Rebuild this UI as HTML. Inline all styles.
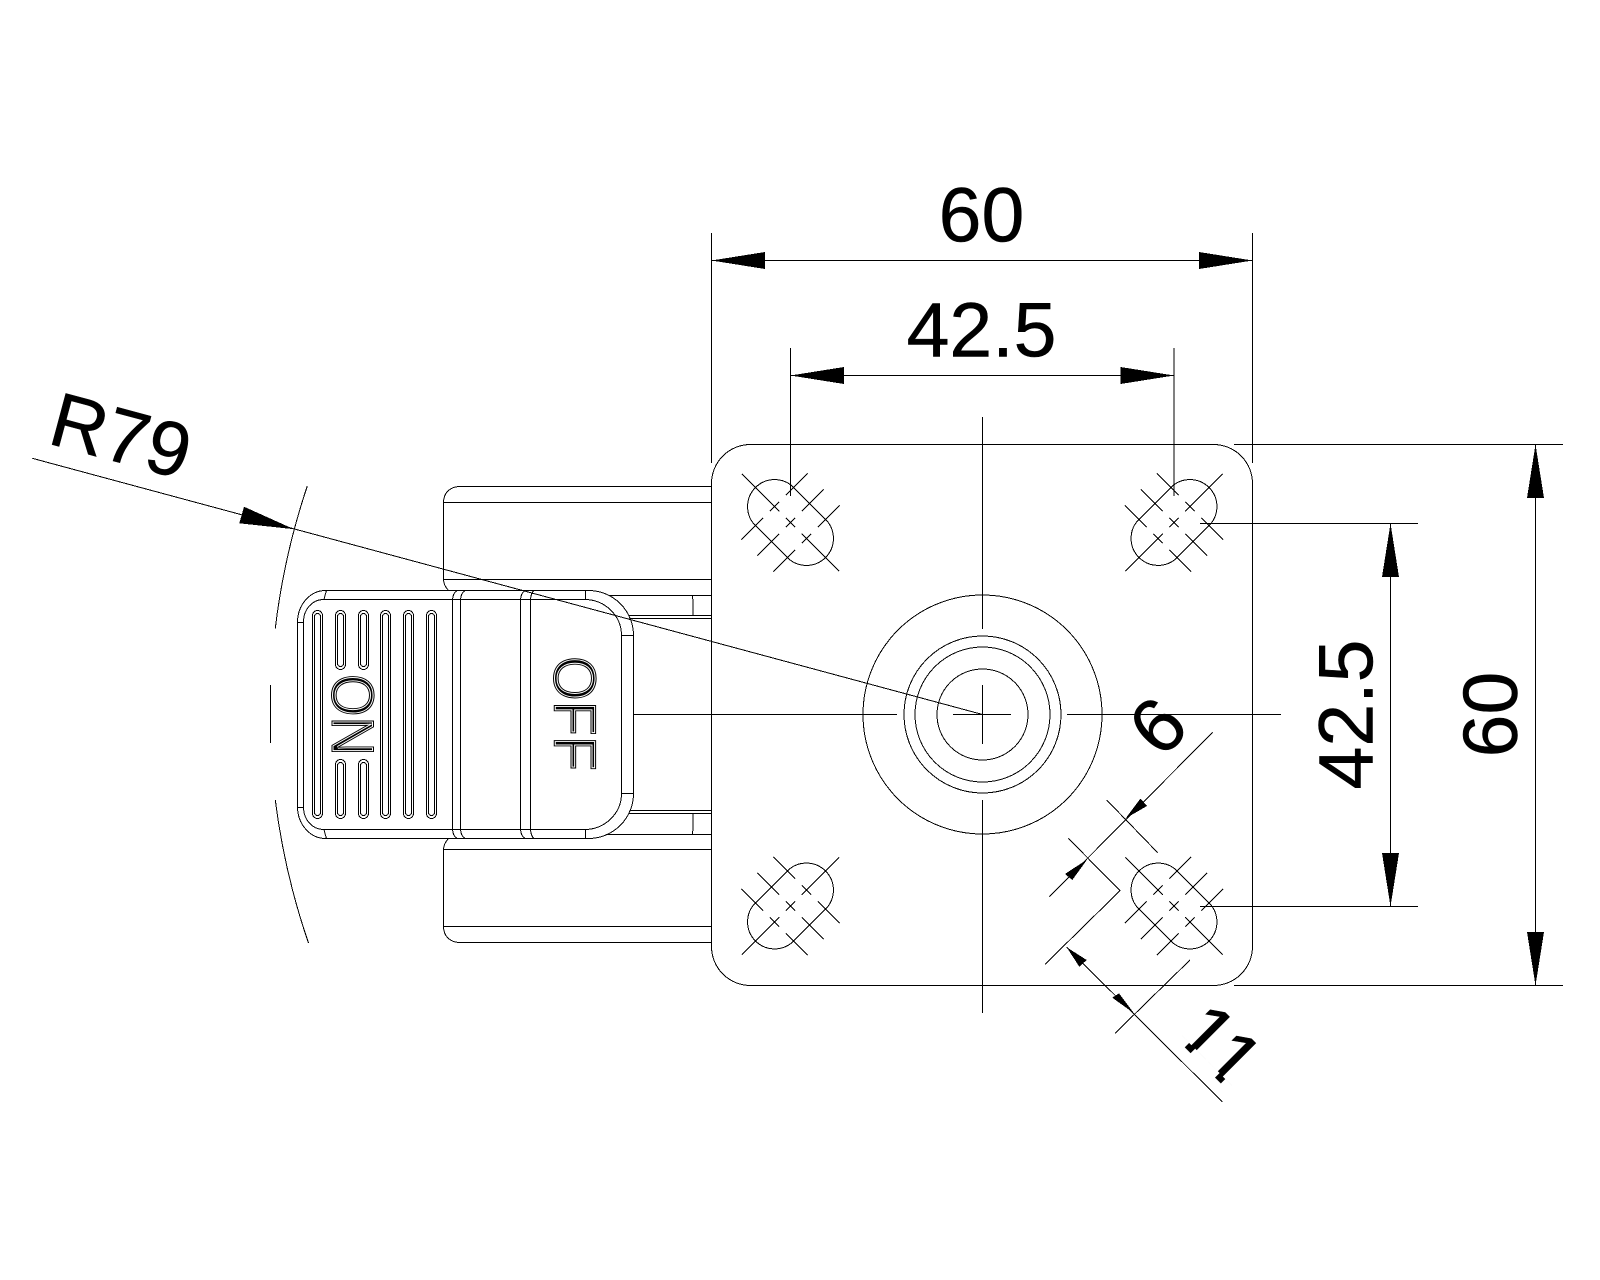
<!DOCTYPE html>
<html>
<head>
<meta charset="utf-8">
<title>Valve dimension drawing</title>
<style>
html,body{margin:0;padding:0;background:#fff;width:1600px;height:1280px;overflow:hidden}
svg{display:block}
.l{fill:none;stroke:#000;stroke-width:1;shape-rendering:crispEdges}
.t{font-family:"Liberation Sans",sans-serif;font-size:77px;fill:#000;stroke:#000;stroke-width:.5}
.a{fill:#000;stroke:none;shape-rendering:crispEdges}
.c{font-family:"Liberation Sans",sans-serif;font-size:60px;fill:#000;stroke:#fff;stroke-width:3}
.o{font-family:"Liberation Sans",sans-serif;font-size:60px;fill:none;stroke:#000;stroke-width:1}
</style>
</head>
<body>
<svg width="1600" height="1280" viewBox="0 0 1600 1280" xmlns="http://www.w3.org/2000/svg">
<defs>
<g id="hole" class="l">
<path d="M-22.5 -27H22.5A27 27 0 0 1 22.5 27H-22.5A27 27 0 0 1 -22.5 -27Z"/>
<path d="M-68.6 0H-15.6M-6.6 0H6.6M15.6 0H68.6"/>
<path d="M0 -46.7V-16M0 -6.6V6.6M0 16V46.7"/>
<path d="M-22.5 -46.7V-16M-22.5 -6.6V6.6M-22.5 16V46.7"/>
<path d="M22.5 -46.7V-16M22.5 -6.6V6.6M22.5 16V46.7"/>
</g>
<clipPath id="nofoot">
<rect x="-60" y="-40" width="120" height="60.8"/>
<rect x="-24" y="20" width="8.3" height="10"/>
<rect x="18.8" y="20" width="8.3" height="10"/>
</clipPath>
</defs>

<!-- side blocks -->
<g class="l">
<path d="M711.5 486.5H460C450 486.5 443.5 493 443.5 502.5V579.5C443.5 584 446 588 449 591"/>
<path d="M443.5 502.5H711.5M443.5 579.5H711.5"/>
<path d="M711.5 942.5H460C450 942.5 443.5 936 443.5 926.5V849.5C443.5 845 446 841 449 838"/>
<path d="M443.5 926.5H711.5M443.5 849.5H711.5"/>
<path d="M600 595.5H711.5M620 615.5H711.5M620 618.5H711.5M692.5 595.5Q693.5 605 693 615.5"/>
<path d="M600 834.5H711.5M620 813.5H711.5M620 810.5H711.5M692.5 834.5Q693.5 824 693 813.5"/>
<path d="M620 714.5H711.5"/>
</g>

<!-- handle -->
<g class="l">
<path style="fill:#fff" d="M325.5 590.5H588.5A45 45 0 0 1 633.5 635.5V793.5A45 45 0 0 1 588.5 838.5H325.5A28 32 0 0 1 297.5 806.5V622.5A28 32 0 0 1 325.5 590.5Z"/>
<path d="M323.5 599.5H584.5A37 36 0 0 1 621.5 635.5V793.5A37 36 0 0 1 584.5 829.5H323.5A20 22 0 0 1 303.5 807.5V621.5A20 22 0 0 1 323.5 599.5Z"/>
<path d="M297.5 622.5H303.5M297.5 807.5H303.5M621.5 635.5H633.5M621.5 793.5H633.5"/>
<path d="M326.5 590.5Q325 595 324 599.5M326.5 838.5Q325 834 324 829.5M585.5 590.5V599.5M585.5 838.5V829.5"/>
<path d="M452.5 599.5Q453 593 457 590.5M452.5 829.5Q453 836 457 838.5M452.5 599.5V829.5"/>
<path d="M460.5 599.5Q461 593 465 590.5M460.5 829.5Q461 836 465 838.5M460.5 599.5V829.5"/>
<path d="M520.5 599.5Q521 593 525 590.5M520.5 829.5Q521 836 525 838.5M520.5 599.5V829.5"/>
<path d="M530.5 599.5Q531 593 534 590.5M530.5 829.5Q531 836 534 838.5M530.5 599.5V829.5"/>
<!-- ribs outer -->
<rect x="312.5" y="610.5" width="10" height="208" rx="5"/>
<rect x="426.5" y="610.5" width="10" height="208" rx="5"/>
<rect x="380.5" y="610.5" width="10" height="208" rx="5"/>
<rect x="403.5" y="610.5" width="10" height="208" rx="5"/>
<rect x="335.5" y="610.5" width="10" height="59" rx="5"/>
<rect x="358.5" y="610.5" width="10" height="59" rx="5"/>
<rect x="335.5" y="759.5" width="10" height="59" rx="5"/>
<rect x="358.5" y="759.5" width="10" height="59" rx="5"/>
<!-- ribs inner -->
<rect x="314.5" y="613.5" width="6" height="202" rx="3"/>
<rect x="428.5" y="613.5" width="6" height="202" rx="3"/>
<rect x="382.5" y="613.5" width="6" height="202" rx="3"/>
<rect x="405.5" y="613.5" width="6" height="202" rx="3"/>
<rect x="337.5" y="613.5" width="6" height="53" rx="3"/>
<rect x="360.5" y="613.5" width="6" height="53" rx="3"/>
<rect x="337.5" y="762.5" width="6" height="53" rx="3"/>
<rect x="360.5" y="762.5" width="6" height="53" rx="3"/>
</g>

<!-- handle lettering -->
<g transform="translate(332 674) rotate(90)">
<text class="c" x="0" y="0" textLength="82" lengthAdjust="spacingAndGlyphs">ON</text>
<text class="o" x="0" y="0" textLength="82" lengthAdjust="spacingAndGlyphs">ON</text>
</g>
<g transform="translate(554 656) rotate(90)">
<text class="c" x="0" y="0" textLength="115" lengthAdjust="spacingAndGlyphs">OFF</text>
<text class="o" x="0" y="0" textLength="115" lengthAdjust="spacingAndGlyphs">OFF</text>
</g>

<!-- plate -->
<g class="l">
<rect x="711.5" y="444.5" width="541" height="541" rx="39" ry="39"/>
<circle cx="982.5" cy="714.5" r="119.5"/>
<circle cx="982.5" cy="714.5" r="78.5"/>
<circle cx="982.5" cy="714.5" r="67.5"/>
<circle cx="982.5" cy="714.5" r="45.5"/>
<path d="M982.5 417V629M982.5 685V744M982.5 800V1013"/>
<path d="M633 714.5H897M953 714.5H1011M1067 714.5H1281"/>
</g>

<use href="#hole" transform="translate(790.5 522.5) rotate(45)"/>
<use href="#hole" transform="translate(1174 906) rotate(45)"/>
<use href="#hole" transform="translate(1174 522.5) rotate(-45)"/>
<use href="#hole" transform="translate(790.5 906) rotate(-45)"/>

<!-- dimensions -->
<g class="l">
<path d="M711.5 233V463M1252.5 233V463"/>
<path d="M711.5 260.5H1252.5"/>
<path d="M790.5 348V496M1174 348V496"/>
<path d="M790.5 375.5H1174"/>
<path d="M1234 444.5H1563M1234 985.5H1563"/>
<path d="M1535.5 444.5V985.5"/>
<path d="M1200 523.5H1418M1200 906.5H1418"/>
<path d="M1390.5 523.5V906.5"/>
<!-- leader and R79 arc -->
<path d="M32.3 458.3L982.5 714.5"/>
<path d="M307.3 486A711.7 711.7 0 0 0 275.3 628.3"/>
<path d="M270.5 685V743"/>
<path d="M275.3 800A711.7 711.7 0 0 0 308.5 943"/>
<!-- 6 and 11 dims -->
<path d="M1212.7 732.3L1049.3 896.7"/>
<path d="M1106.7 800L1157.7 852.7"/>
<path d="M1068.3 838.3L1120 890.7L1045 964.3"/>
<path d="M1190 960L1115 1033.3"/>
<path d="M1066.7 947.3L1222.5 1102"/>
</g>

<!-- arrowheads -->
<g class="a">
<polygon points="711.5,260.5 765,252 765,269"/>
<polygon points="1252.5,260.5 1199,252 1199,269"/>
<polygon points="790.5,375.5 844,367 844,384"/>
<polygon points="1174,375.5 1120.5,367 1120.5,384"/>
<polygon points="1535.5,444.5 1527,498 1544,498"/>
<polygon points="1535.5,985.5 1527,932 1544,932"/>
<polygon points="1390.5,523.5 1382,577 1399,577"/>
<polygon points="1390.5,906.5 1382,853 1399,853"/>
<polygon points="294,529.2 244,506.7 239.3,523.3"/>
<polygon points="1125.7,818.3 1140.5,798.5 1147,806"/>
<polygon points="1087.3,859.3 1065,874 1072.3,880"/>
<polygon points="1066.7,947.3 1086.7,960 1079.3,966.7"/>
<polygon points="1134,1013.3 1112.3,997.7 1119,993.3"/>
</g>

<!-- labels -->
<text class="t" x="981.5" y="241.5" text-anchor="middle">60</text>
<text class="t" x="981.5" y="356.5" text-anchor="middle">42.5</text>
<text class="t" text-anchor="middle" transform="translate(1372.5 714.5) rotate(-90)">42.5</text>
<text class="t" text-anchor="middle" transform="translate(1517 714.5) rotate(-90)">60</text>
<text class="t" text-anchor="middle" y="27" transform="translate(1157.3 725.7) rotate(-45)">6</text>
<g transform="translate(1221 1045) rotate(45)"><text class="t" text-anchor="middle" y="27" clip-path="url(#nofoot)">11</text></g>
<text class="t" transform="translate(46 443) rotate(15)">R79</text>
</svg>
</body>
</html>
